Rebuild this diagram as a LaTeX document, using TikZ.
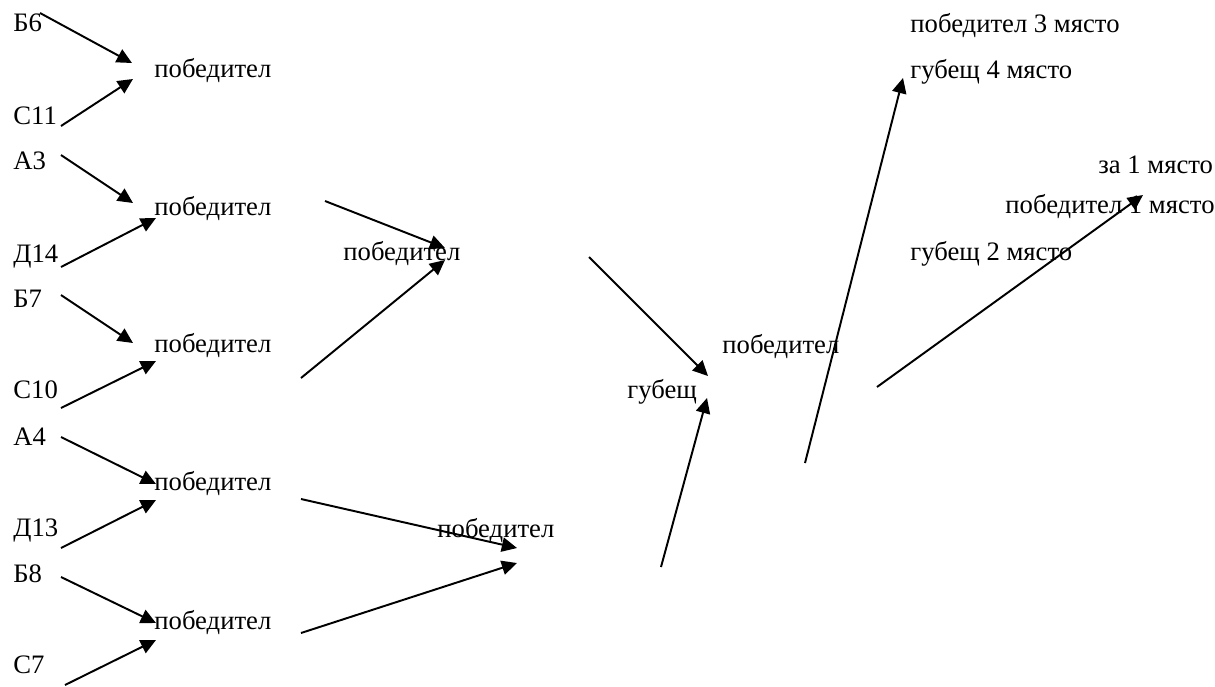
\documentclass[tikz,border=0pt]{standalone}
\usepackage{fontspec}
\setmainfont{Liberation Serif}
\usetikzlibrary{arrows.meta}

\begin{document}
\begin{tikzpicture}[x=0.4615pt, y=-0.4615pt,
 lbl/.style={anchor=base west, inner sep=0pt, font=\fontsize{12.3}{14}\selectfont},
 arr/.style={-{Triangle[length=7pt,width=6.6pt]}, line width=0.9pt}]

\useasboundingbox (0,0) rectangle (1215,686);

% teams
\foreach \t/\y [count=\i] in {Б6/31, С11/124, А3/169, Д14/262, Б7/307, С10/398, А4/445, Д13/536, Б8/582, С7/673} {
 \node[lbl] (p\i) at (13,\y) {\t};
};
\foreach \y [count=\i] in {77, 215, 352, 490, 629} {
 \node[lbl] (w\i) at (154,\y) {победител};
};

\node[lbl] (s1) at (343,260) {победител};
\node[lbl] (s2) at (437,537) {победител};
\node[lbl] (g) at (627,398) {губещ};
\node[lbl] (f) at (722,353) {победител};

% places
\node[lbl] (t3) at (910,32) {победител 3 място};
\node[lbl] (t4) at (910,78) {губещ 4 място};
\node[lbl] (z) at (1098,173) {за 1 място};
\node[lbl] (t1) at (1005,213) {победител 1 място};
\node[lbl] (t2) at (910,260) {губещ 2 място};

\foreach \a/\sx/\sy/\b/\ex/\ey in {p1/27/-18/w1/-22/-14, p2/48/2/w1/-21/2,
  p3/48/-14/w2/-21/-12, p4/48/5/w2/2/3, p5/48/-12/w3/-21/-9, p6/48/10/w3/2/9,
  p7/48/-8/w4/2/-6, p8/48/12/w4/2/10, p9/48/-5/w5/2/-6, p10/52/12/w5/2/11,
  w2/171/-14/s1/102/-12, w3/147/26/s1/102/0, w4/147/9/s2/80/11, w5/147/4/s2/80/26,
  s1/246/-3/g/81/-22, s2/224/30/g/80/0, f/83/110/t4/-7/0, f/155/34/t1/138/-18} {
 \draw[arr] ([shift={(\sx,\sy)}]\a.base west) -- ([shift={(\ex,\ey)}]\b.base west);
};
\end{tikzpicture}
\end{document}
